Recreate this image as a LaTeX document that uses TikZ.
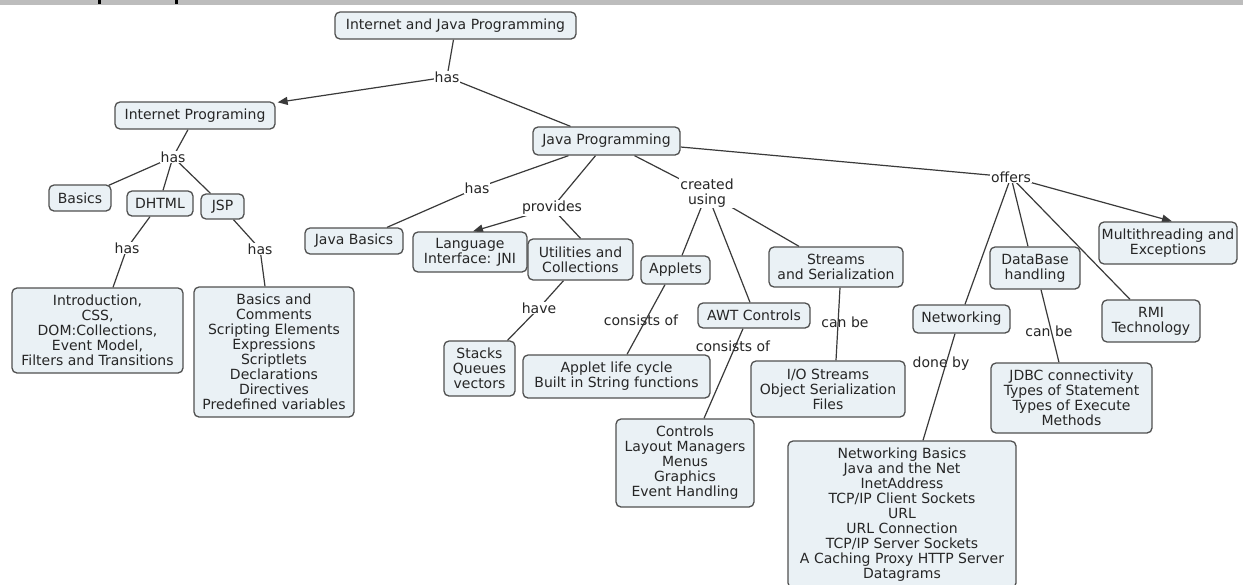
\documentclass[tikz,border=0pt]{standalone}
\usepackage{fontspec}
\setmainfont{DejaVu Sans}
\usetikzlibrary{calc,arrows.meta}

\definecolor{boxfill}{HTML}{EAF1F5}
\definecolor{boxline}{HTML}{505050}
\definecolor{linkcol}{HTML}{3A3A3A}
\definecolor{txt}{HTML}{262626}
\definecolor{band}{HTML}{BDBDBD}

\pgfdeclarelayer{paper}
\pgfdeclarelayer{links}
\pgfsetlayers{paper,links,main}

\newcommand\mapfont{\fontsize{14}{15}\selectfont}

\tikzset{
  concept/.style={draw=boxline, fill=boxfill, rounded corners=5pt, line width=1.3pt,
    align=center, inner sep=2pt, text=txt, font=\mapfont},
  phrase/.style={fill=white, inner sep=1pt, align=center, text=txt, font=\mapfont},
  crossing/.style={inner sep=1pt, align=center, text=txt, font=\mapfont},
  link/.style={draw=linkcol, line width=1.2pt},
  linkarrow/.style={link, -{Triangle[length=10pt,width=8pt]}},
}

\begin{document}
\begin{tikzpicture}[x=1pt,y=-1pt]
\clip (0,0) rectangle (1243,584);

\begin{pgfonlayer}{paper}
\fill[white] (0,0) rectangle (1243,584);
% heading strip
\fill[band] (0,0) rectangle (1243,5);
\fill[black] (98,0) rectangle (101,4);
\fill[black] (175,0) rectangle (178,4);
\end{pgfonlayer}

% concepts
\node[concept, minimum width=241pt, minimum height=27pt] (ijp) at (455.5,25.5) {Internet and Java Programming};
\node[concept, minimum width=160pt, minimum height=27pt] (ip) at (195,115.5) {Internet Programing};
\node[concept, minimum width=147pt, minimum height=28pt] (jp) at (606.5,141) {Java Programming};
\node[concept, minimum width=62pt, minimum height=26pt] (basics) at (80,198) {Basics};
\node[concept, minimum width=66pt, minimum height=25pt] (dhtml) at (160,203.5) {DHTML};
\node[concept, minimum width=43pt, minimum height=25pt] (jsp) at (222.5,206.5) {JSP};
\node[concept, minimum width=171pt, minimum height=85pt] (intro) at (97.5,330.5)
  {Introduction,\\CSS,\\DOM:Collections,\\Event Model,\\Filters and Transitions};
\node[concept, minimum width=160pt, minimum height=130pt] (jspd) at (274,352)
  {Basics and\\Comments\\Scripting Elements\\Expressions\\Scriptlets\\Declarations\\Directives\\Predefined variables};
\node[concept, minimum width=98pt, minimum height=26pt] (jbasics) at (354,241) {Java Basics};
\node[concept, minimum width=114pt, minimum height=40pt] (lang) at (470,252) {Language\\Interface: JNI};
\node[concept, minimum width=105pt, minimum height=41pt] (util) at (580.5,259.5) {Utilities and\\Collections};
\node[concept, minimum width=71pt, minimum height=55pt] (stacks) at (479.5,368.5) {Stacks\\Queues\\vectors};
\node[concept, minimum width=69pt, minimum height=28pt] (applets) at (675.5,270) {Applets};
\node[concept, minimum width=187pt, minimum height=43pt] (alife) at (616.5,376.5) {Applet life cycle\\Built in String functions};
\node[concept, minimum width=112pt, minimum height=25pt] (awt) at (754,315.5) {AWT Controls};
\node[concept, minimum width=138pt, minimum height=88pt] (controls) at (685,463)
  {Controls\\Layout Managers\\Menus\\Graphics\\Event Handling};
\node[concept, minimum width=134pt, minimum height=40pt] (streams) at (836,267) {Streams\\and Serialization};
\node[concept, minimum width=154pt, minimum height=56pt] (io) at (828,389) {I/O Streams\\Object Serialization\\Files};
\node[concept, minimum width=97pt, minimum height=28pt] (networking) at (961.5,319) {Networking};
\node[concept, minimum width=228pt, minimum height=147pt] (netd) at (902,514.5)
  {Networking Basics\\Java and the Net\\InetAddress\\TCP/IP Client Sockets\\URL\\URL Connection\\TCP/IP Server Sockets\\A Caching Proxy HTTP Server\\Datagrams};
\node[concept, minimum width=90pt, minimum height=42pt] (database) at (1035,268) {DataBase\\handling};
\node[concept, minimum width=161pt, minimum height=70pt] (jdbc) at (1071.5,398)
  {JDBC connectivity\\Types of Statement\\Types of Execute\\Methods};
\node[concept, minimum width=98pt, minimum height=42pt] (rmi) at (1151,321) {RMI\\Technology};
\node[concept, minimum width=138pt, minimum height=42pt] (multi) at (1168,243) {Multithreading and\\Exceptions};

% linking phrases
\node[phrase] (l1) at (447,77) {has};
\node[phrase] (l2) at (173,157) {has};
\node[phrase] (l3) at (127,248) {has};
\node[phrase] (l4) at (260,249) {has};
\node[phrase] (l5) at (477,188) {has};
\node[phrase] (l6) at (552,208) {provides};
\node[phrase] (l7) at (707,193) {created\\using};
\node[phrase] (l8) at (539,308) {have};
\node[crossing] (l9) at (641,320) {consists of};
\node[crossing] (l10) at (733,346) {consists of};
\node[crossing] (l11) at (845,322) {can be};
\node[phrase] (l12) at (1011,177) {offers};
\node[crossing] (l13) at (941,364) {done by};
\node[crossing] (l14) at (1049,331) {can be};

\begin{pgfonlayer}{links}
\draw[link] ($(ijp.south)+(-2,0)$) -- (l1.center);
\draw[linkarrow] (l1.center) -- ($(ip.north east)+(2,1)$);
\draw[link] (l1.center) -- ($(jp.north)+(-36,0)$);

\draw[link] ($(ip.south)+(-7,0)$) -- (l2.center);
\draw[link] (l2.center) -- ($(basics.north east)+(-3,1)$);
\draw[link] (l2.center) -- ($(dhtml.north)+(3,0)$);
\draw[link] (l2.center) -- ($(jsp.north)+(-12,0)$);
\draw[link] ($(dhtml.south)+(-10,0)$) -- (l3.center);
\draw[link] (l3.center) -- ($(intro.north)+(15.5,0)$);
\draw[link] ($(jsp.south)+(11,0)$) -- (l4.center);
\draw[link] (l4.center) -- ($(jspd.north)+(-9,0)$);

\draw[link] ($(jp.south)+(-38,0)$) -- (l5.center);
\draw[link] (l5.center) -- ($(jbasics.north)+(33,0)$);
\draw[link] ($(jp.south)+(-11,0)$) -- (l6.center);
\draw[linkarrow] (l6.center) -- ($(lang.north)+(3,0)$);
\draw[link] (l6.center) -- (util.north);
\draw[link] ($(util.south)+(-17,0)$) -- (l8.center);
\draw[link] (l8.center) -- ($(stacks.north)+(28,0)$);

\draw[link] ($(jp.south)+(28,0)$) -- (l7.center);
\draw[link] (l7.center) -- ($(applets.north)+(6.5,0)$);
\draw[link] (l7.center) -- ($(awt.north)+(-4,0)$);
\draw[link] (l7.center) -- ($(streams.north)+(-37,0)$);
\draw[link] ($(applets.south)+(-10.5,0)$) -- ($(alife.north)+(10.5,0)$);
\draw[link] ($(awt.south)+(-11,0)$) -- ($(controls.north)+(19,0)$);
\draw[link] ($(streams.south)+(4,0)$) -- ($(io.north)+(8,0)$);

\draw[link] ($(jp.east)+(0,6)$) -- (l12.center);
\draw[linkarrow] (l12.center) -- ($(multi.north)+(4,0)$);
\draw[link] (l12.center) -- ($(networking.north)+(3.5,0)$);
\draw[link] (l12.center) -- ($(database.north)+(-7,0)$);
\draw[link] (l12.center) -- ($(rmi.north)+(-21,0)$);
\draw[link] ($(networking.south)+(-6.5,0)$) -- ($(netd.north)+(21,0)$);
\draw[link] ($(database.south)+(6,0)$) -- ($(jdbc.north)+(-12.5,0)$);
\end{pgfonlayer}
\end{tikzpicture}
\end{document}
